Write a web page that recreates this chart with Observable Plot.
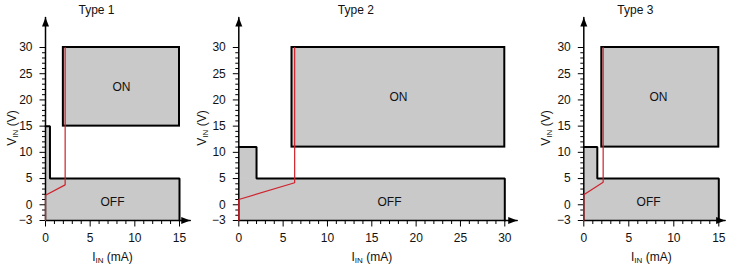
<!DOCTYPE html>
<html>
<head>
<meta charset="utf-8">
<script src="https://cdn.jsdelivr.net/npm/d3@7"></script>
<script src="https://cdn.jsdelivr.net/npm/@observablehq/plot@0.6"></script>
<style>
  html, body { margin: 0; padding: 0; background: #fff; }
  #wrap { position: relative; width: 740px; height: 274px; overflow: hidden; font-family: "Liberation Sans", Arial, sans-serif; }
  .panel { position: absolute; top: 0; }
</style>
</head>
<body>
<div id="wrap"></div>
<script>
// ---- data ----
const types = ["Type 1", "Type 2", "Type 3"];
const iMax = [15, 30, 15];                 // mA, right edge of regions
const vMin = -3;                           // V
const vMax = 30;                           // V
const offTopV = [5, 5, 5];                 // OFF region upper voltage
const offStepI = [0.5, 2, 1.5];            // OFF step current limit
const offStepV = [15, 11, 11];             // OFF step voltage
const onIMin = [2, 6, 2];
const onIMax = [15, 30, 15];
const onVMin = [15, 11, 11];
const onVMax = [30, 30, 30];
const curve1I = [0, 0, 2.2, 2.2];
const curve1V = [-3, 1.8, 3.8, 30];
const curve2I = [0, 0, 6.3, 6.3];
const curve2V = [-3, 1.0, 4.2, 30];
const curve3I = [0, 0, 2.15, 2.15];
const curve3V = [-3, 1.9, 4.3, 30];
const yTicks = [-3, 0, 5, 10, 15, 20, 25, 30];
const xTicks1 = [0, 5, 10, 15];
const xTicks2 = [0, 5, 10, 15, 20, 25, 30];
const xTicks3 = [0, 5, 10, 15];
const regionLabels = ["ON", "OFF"];
const onLabelI = [8.5, 18, 8.3];
const onLabelV = [22.5, 20.5, 20.5];
const offLabelI = [7.5, 17, 7.2];
const offLabelV = [0.5, 0.5, 0.5];
const xAxisTitle = "I_IN (mA)";
const yAxisTitle = "V_IN (V)";

// ---- layout ----
const layout = [
  {left: 0,   width: 195, ml: 45,   mr: 16,   ylabDx: -33, arrowI: 16.2},
  {left: 195, width: 325, ml: 43.3, mr: 15.7, ylabDx: -36.5, arrowI: 31.4},
  {left: 520, width: 220, ml: 63.3, mr: 21.7, ylabDx: -38, arrowI: 15.7}
];
const curvesI = [curve1I, curve2I, curve3I];
const curvesV = [curve1V, curve2V, curve3V];
const xTicksAll = [xTicks1, xTicks2, xTicks3];
const arrowV = 35.7;
const gray = "#c9c9c9";
const red = "#d0212b";

// custom symbols (pixel-sized tick marks and arrow heads)
const tickDown = len => ({draw(ctx) { ctx.moveTo(0, 0); ctx.lineTo(0, len); }});
const tickLeft = len => ({draw(ctx) { ctx.moveTo(0, 0); ctx.lineTo(-len, 0); }});
const arrowUp = {draw(ctx) { ctx.moveTo(0, 0); ctx.lineTo(-3.5, 9); ctx.lineTo(3.5, 9); ctx.closePath(); }};
const arrowRight = {draw(ctx) { ctx.moveTo(0, 0); ctx.lineTo(-9, -3.5); ctx.lineTo(-9, 3.5); ctx.closePath(); }};

function subscriptify(svg) {
  d3.select(svg).selectAll("text").each(function () {
    const s = this.textContent;
    const m = /^([VI])_IN (.*)$/.exec(s);
    if (!m) return;
    const t = d3.select(this);
    t.text(null);
    t.append("tspan").text(m[1]);
    t.append("tspan").attr("font-size", "8px").attr("dy", "2").text("IN");
    t.append("tspan").attr("dy", "-2").text(" " + m[2]);
  });
}

function panel(k) {
  const L = layout[k];
  const offRects = [
    {x1: 0, x2: iMax[k], y1: vMin, y2: offTopV[k]},
    {x1: 0, x2: offStepI[k], y1: offTopV[k] - 0.1, y2: offStepV[k]}
  ];
  const offOutline = [
    {i: 0, v: offStepV[k]},
    {i: offStepI[k], v: offStepV[k]},
    {i: offStepI[k], v: offTopV[k]},
    {i: iMax[k], v: offTopV[k]},
    {i: iMax[k], v: vMin}
  ];
  const onRect = [{x1: onIMin[k], x2: onIMax[k], y1: onVMin[k], y2: onVMax[k]}];
  const curve = curvesI[k].map((i, j) => ({i, v: curvesV[k][j]}));
  const xMajor = xTicksAll[k];
  const xMinor = d3.range(0, iMax[k] + 1, 1).filter(d => !xMajor.includes(d));
  const yMinor = d3.range(vMin, vMax + 1, 1).filter(d => !yTicks.includes(d));
  const yAxisLine = [{i: 0, v: vMin}, {i: 0, v: arrowV}];
  const xAxisLine = [{i: 0, v: vMin}, {i: L.arrowI, v: vMin}];
  const fmt = d => d < 0 ? "\u2212" + Math.abs(d) : String(d);

  const svg = Plot.plot({
    width: L.width,
    height: 274,
    marginTop: 47,
    marginBottom: 54,
    marginLeft: L.ml,
    marginRight: L.mr,
    x: {domain: [0, iMax[k]], axis: null},
    y: {domain: [vMin, vMax], axis: null},
    style: {fontFamily: "'Liberation Sans', Arial, sans-serif", fontSize: "12px", background: "transparent", overflow: "visible", color: "#111"},
    marks: [
      Plot.rect(offRects, {x1: "x1", x2: "x2", y1: "y1", y2: "y2", fill: gray}),
      Plot.rect(onRect, {x1: "x1", x2: "x2", y1: "y1", y2: "y2", fill: gray, stroke: "#000", strokeWidth: 2}),
      Plot.line(offOutline, {x: "i", y: "v", stroke: "#000", strokeWidth: 2, strokeLinejoin: "miter"}),
      // x ticks
      Plot.dot(xMajor, {x: d => d, y: () => vMin, symbol: tickDown(6), fill: "none", stroke: "#000", strokeWidth: 1}),
      Plot.dot(xMinor, {x: d => d, y: () => vMin, symbol: tickDown(3.5), fill: "none", stroke: "#000", strokeWidth: 1}),
      Plot.text(xMajor, {x: d => d, y: () => vMin, text: fmt, dy: 18, fontSize: 12, fill: "#111"}),
      // y ticks
      Plot.dot(yTicks, {x: () => 0, y: d => d, symbol: tickLeft(6), fill: "none", stroke: "#000", strokeWidth: 1}),
      Plot.dot(yMinor, {x: () => 0, y: d => d, symbol: tickLeft(3.5), fill: "none", stroke: "#000", strokeWidth: 1}),
      Plot.text(yTicks, {x: () => 0, y: d => d, text: fmt, textAnchor: "end", dx: -13, fontSize: 12, fill: "#111"}),
      // axis lines + arrows
      Plot.line(yAxisLine, {x: "i", y: "v", stroke: "#000", strokeWidth: 1.5}),
      Plot.line(xAxisLine, {x: "i", y: "v", stroke: "#000", strokeWidth: 1.5}),
      Plot.dot([yAxisLine[1]], {x: "i", y: "v", symbol: arrowUp, fill: "#000", stroke: "none"}),
      Plot.dot([xAxisLine[1]], {x: "i", y: "v", symbol: arrowRight, fill: "#000", stroke: "none"}),
      // characteristic curve
      Plot.line(curve, {x: "i", y: "v", stroke: red, strokeWidth: 1.2, strokeLinejoin: "miter"}),
      // labels
      Plot.text([regionLabels[0]], {x: () => onLabelI[k], y: () => onLabelV[k], text: d => d, fontSize: 12, fill: "#111"}),
      Plot.text([regionLabels[1]], {x: () => offLabelI[k], y: () => offLabelV[k], text: d => d, fontSize: 12, fill: "#111"}),
      Plot.text([types[k]], {frameAnchor: "top", textAnchor: "middle", lineAnchor: "middle", dy: -37, dx: -16, text: d => d, fontSize: 12, fill: "#111"}),
      Plot.text([xAxisTitle], {frameAnchor: "bottom", textAnchor: "middle", lineAnchor: "middle", dy: 37, text: d => d, fontSize: 12, fill: "#111"}),
      Plot.text([yAxisTitle], {frameAnchor: "left", textAnchor: "middle", lineAnchor: "middle", rotate: -90, dx: L.ylabDx, dy: -6, text: d => d, fontSize: 12, fill: "#111"})
    ]
  });
  subscriptify(svg);
  const div = document.createElement("div");
  div.className = "panel";
  div.style.left = L.left + "px";
  div.style.width = L.width + "px";
  div.appendChild(svg);
  document.getElementById("wrap").appendChild(div);
}

types.forEach((_, k) => panel(k));
</script>
</body>
</html>
